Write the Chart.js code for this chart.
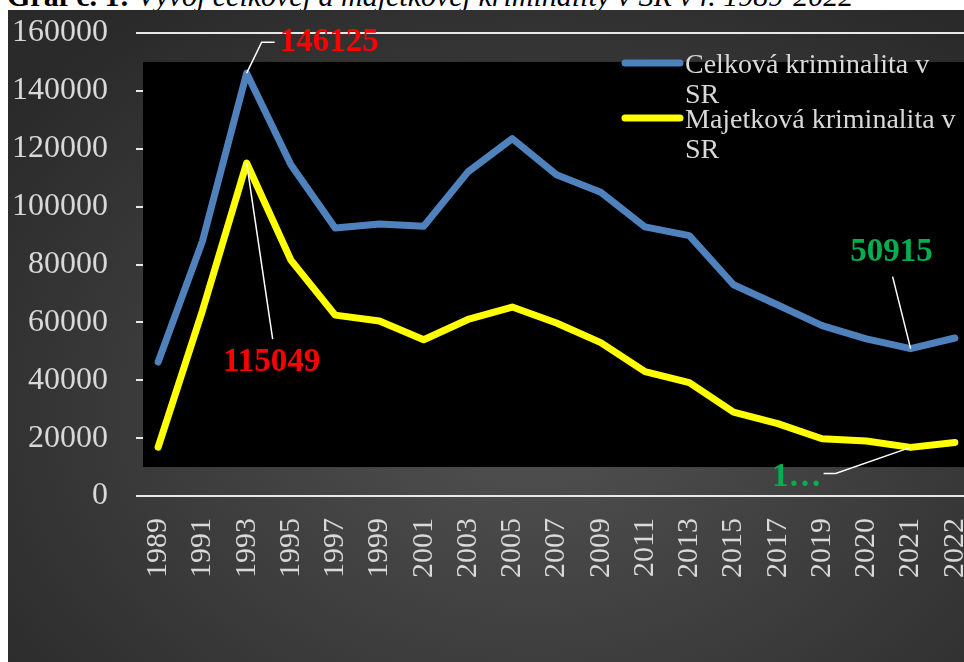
<!DOCTYPE html>
<html>
<head>
<meta charset="utf-8">
<title>Graf č. 1</title>
<script src="https://cdn.jsdelivr.net/npm/chart.js@4"></script>
<style>
	html, body {
		margin: 0;
		padding: 0;
		width: 964px;
		height: 662px;
		overflow: hidden;
		background: #ffffff;
		font-family: "Liberation Serif", "Times New Roman", serif;
	}
	#title {
		position: absolute;
		left: 7px;
		top: -19px;
		font-size: 30px;
		line-height: 30px;
		color: #000;
		white-space: nowrap;
	}
	#title b { font-weight: bold; }
	#title i { font-style: italic; }
	#bg {
		position: absolute;
		left: 8px;
		top: 10px;
		right: 0;
		bottom: 0;
		background: radial-gradient(ellipse 70% 75% at 55% 62%, #515151 0%, #3c3c3c 55%, #2a2a2a 100%);
	}
	#main-chart {
		position: absolute;
		left: 0;
		top: 0;
	}
</style>
</head>
<body>
<div id="title"><b>Graf č. 1:</b> <i>Vývoj celkovej a majetkovej kriminality v SR v r. 1989-2022</i></div>
<div id="bg"></div>
<canvas id="main-chart" width="992" height="662"></canvas>

<script>
// roky a hodnoty odčítané z grafu
var years = ['1989', '1991', '1993', '1995', '1997', '1999', '2001', '2003', '2005', '2007',
	'2009', '2011', '2013', '2015', '2017', '2019', '2020', '2021', '2022'];

var celkova = [46300, 88000, 146125, 114500, 92600, 94000, 93200, 112000, 123500, 111000,
	105000, 93000, 90000, 73000, 66000, 58900, 54300, 50915, 54600];

var majetkova = [16900, 64000, 115049, 81500, 62500, 60500, 54000, 61000, 65300, 59800,
	53000, 43000, 39200, 29000, 25000, 19800, 19000, 16800, 18500];

var yTicks = [0, 20000, 40000, 60000, 80000, 100000, 120000, 140000, 160000];

var textColor = '#d9d9d9';

// čierna plocha grafu (od 10000 do 150000)
var plotFill = {
	id: 'plotFill',
	beforeDatasetsDraw(chart) {
		var ctx = chart.ctx;
		var y = chart.scales.y;
		var top = y.getPixelForValue(150000);
		var bottom = y.getPixelForValue(10000);
		ctx.save();
		ctx.fillStyle = '#000000';
		ctx.fillRect(chart.chartArea.left + 7, top, chart.width, bottom - top);
		ctx.restore();
	}
};

// popisky hodnôt s odkazovými čiarami
var callouts = [
	{ ds: 0, i: 2, text: '146125', color: '#ff0000', align: 'left', tx: 33, ty: -31, line: [[15, -31], [28, -31]] },
	{ ds: 1, i: 2, text: '115049', color: '#ff0000', align: 'center', tx: 25, ty: 199, line: [[26, 176]] },
	{ ds: 0, i: 17, text: '50915', color: '#00b050', align: 'center', tx: -19, ty: -96, line: [[-18, -72]] },
	{ ds: 1, i: 17, text: '1…', color: '#00b050', align: 'right', tx: -89, ty: 30, line: [[-75, 26], [-87, 26]] }
];

var labelPlugin = {
	id: 'labelPlugin',
	afterDatasetsDraw(chart) {
		var ctx = chart.ctx;
		ctx.save();
		callouts.forEach(function(c) {
			var pt = chart.getDatasetMeta(c.ds).data[c.i];
			ctx.strokeStyle = '#ffffff';
			ctx.lineWidth = 1.5;
			ctx.beginPath();
			ctx.moveTo(pt.x, pt.y);
			c.line.forEach(function(p) {
				ctx.lineTo(pt.x + p[0], pt.y + p[1]);
			});
			ctx.stroke();
			ctx.fillStyle = c.color;
			ctx.font = 'bold 33px "Liberation Serif"';
			ctx.textAlign = c.align;
			ctx.textBaseline = 'middle';
			ctx.fillText(c.text, pt.x + c.tx, pt.y + c.ty);
		});
		ctx.restore();
	}
};

// legenda vpravo hore, text zalomený na dva riadky
var legendPlugin = {
	id: 'legendPlugin',
	afterDraw(chart) {
		var ctx = chart.ctx;
		var x = 625;
		var y = 73;
		ctx.save();
		ctx.font = '28px "Liberation Serif"';
		ctx.textAlign = 'left';
		ctx.textBaseline = 'alphabetic';
		chart.data.datasets.forEach(function(ds) {
			ctx.strokeStyle = ds.borderColor;
			ctx.lineWidth = 7;
			ctx.lineCap = 'round';
			ctx.beginPath();
			ctx.moveTo(x, y - 10);
			ctx.lineTo(x + 55, y - 10);
			ctx.stroke();

			// zalomiť pred "SR"
			var words = ds.label.split(' ');
			var lines = [words.slice(0, -1).join(' '), words[words.length - 1]];

			ctx.fillStyle = textColor;
			lines.forEach(function(l, k) {
				ctx.fillText(l, x + 60, y + k * 30);
			});
			y += 55;
		});
		ctx.restore();
	}
};

var ctx = document.getElementById('main-chart');

new Chart(ctx, {
	type: 'line',
	data: {
		labels: years,
		datasets: [
			{
				label: 'Celková kriminalita v SR',
				data: celkova,
				borderColor: '#4f81bd',
				borderWidth: 7,
				borderJoinStyle: 'round',
				borderCapStyle: 'round',
				pointRadius: 0,
				tension: 0
			},
			{
				label: 'Majetková kriminalita v SR',
				data: majetkova,
				borderColor: '#ffff00',
				borderWidth: 7,
				borderJoinStyle: 'round',
				borderCapStyle: 'round',
				pointRadius: 0,
				tension: 0
			}
		]
	},
	options: {
		responsive: false,
		animation: false,
		layout: {
			padding: { top: 33, right: 15, left: 0, bottom: 0 }
		},
		plugins: {
			legend: { display: false },
			tooltip: { enabled: false }
		},
		scales: {
			x: {
				offset: true,
				grid: { display: false },
				border: { display: false },
				ticks: {
					color: textColor,
					font: { family: 'Liberation Serif', size: 30 },
					minRotation: 90,
					maxRotation: 90,
					autoSkip: false,
					padding: 14
				},
				afterFit(scale) {
					scale.height = 166;
					scale.paddingLeft = 0;
					scale.paddingRight = 0;
				}
			},
			y: {
				min: 0,
				max: 160000,
				afterBuildTicks(scale) {
					scale.ticks = yTicks.map(function(v) { return { value: v }; });
				},
				grid: {
					color: '#e8e8e8',
					lineWidth: 2,
					drawTicks: false
				},
				border: { display: false },
				ticks: {
					color: textColor,
					font: { family: 'Liberation Serif', size: 32 },
					padding: 28,
					callback: function(v) { return String(v); }
				},
				afterFit(scale) {
					scale.width = 136;
					scale.paddingTop = 0;
					scale.paddingBottom = 0;
				}
			}
		}
	},
	plugins: [plotFill, labelPlugin, legendPlugin]
});
</script>
</body>
</html>
